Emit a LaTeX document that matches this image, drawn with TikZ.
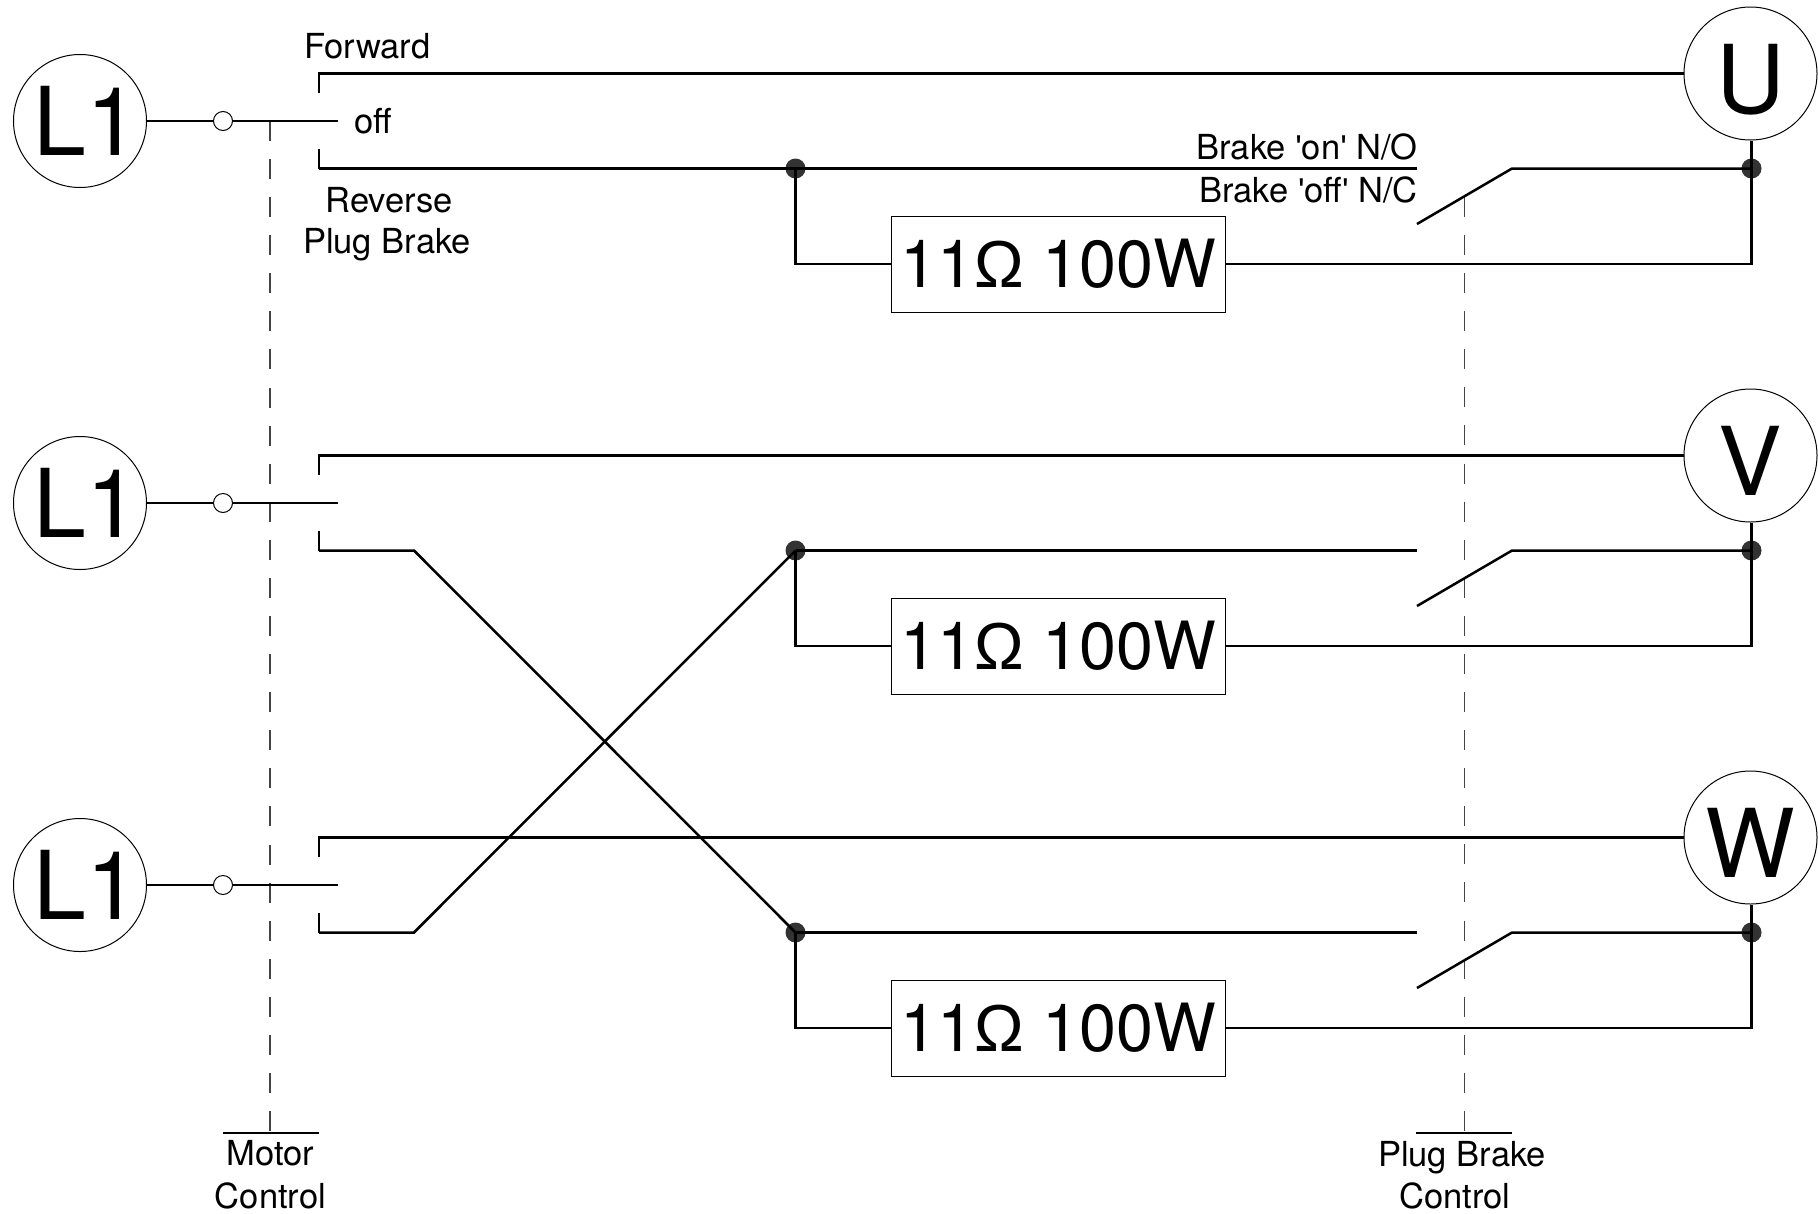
\documentclass[tikz,border=0pt]{standalone}
\usepackage{fontspec}
\setmainfont{TeX Gyre Heros}
\newfontfamily\libfont{Liberation Sans}
\newcommand{\sq}{{\libfont\char39}}
\definecolor{dashgray}{HTML}{444444}
\definecolor{dotgray}{HTML}{333333}
\tikzset{
  wire/.style={line width=2.5pt,black,line join=miter},
  ctrl/.style={line width=1.2pt,dashgray,dash pattern=on 20pt off 18.08pt},
  term/.style={circle,draw=black,line width=1pt,fill=white,inner sep=0pt,minimum size=133pt,font=\fontsize{95}{100}\selectfont},
  motorterm/.style={term,text height=80pt,text depth=0pt},
  contact/.style={circle,draw=black,line width=1pt,fill=white,inner sep=0pt,minimum size=19pt},
  dot/.style={circle,fill=dotgray,inner sep=0pt,minimum size=20pt},
  res/.style={rectangle,draw=black,line width=1pt,fill=white,inner sep=0pt,minimum width=334pt,minimum height=96pt,font=\fontsize{66.5}{70}\selectfont},
  lab/.style={inner sep=0pt,font=\fontsize{34.5}{40}\selectfont}
}
\begin{document}
\begin{tikzpicture}[x=1pt,y=-1pt]
\useasboundingbox (0,0) rectangle (1818,1213);
\fill[white] (0,0) rectangle (1818,1213);
% control lines
\coordinate (mctop) at (270,121);
\coordinate (mcbot) at (270,1133);
\coordinate (pbtop) at (1464.5,197);
\coordinate (pbbot) at (1464.5,1133);
\draw[ctrl] (mctop) -- (mcbot);
\draw[ctrl] (pbtop) -- (pbbot);
\foreach \i/\o/\m in {1/0/U,2/382/V,3/764/W}{
  \node[term] (L\i) at (80,{121+\o}) {\makebox[0pt][c]{\hspace*{13pt}L1}};
  \node[motorterm] (M\i) at (1750.5,{73.5+\o}) {\m};
  \node[contact] (c\i) at (223,{121+\o}) {};
  \node[res] (R\i) at (1058.5,{264+\o}) {11{\libfont Ω} 100W};
  \node[dot] (jl\i) at (795.5,{168.5+\o}) {};
  \node[dot] (jr\i) at (1751.5,{168.5+\o}) {};
  \coordinate (pole\i) at (338,{121+\o});
  \coordinate (ft\i) at (319,{93+\o});
  \coordinate (fc\i) at (319,{73.5+\o});
  \coordinate (rb\i) at (319,{149+\o});
  \coordinate (rc\i) at (319,{168.5+\o});
  \coordinate (fix\i) at (1417,{168.5+\o});
  \coordinate (bl\i) at (1417,{224+\o});
  \coordinate (bk\i) at (1512,{168.5+\o});
  \draw[wire] (L\i) -- (c\i);
  \draw[wire] (c\i) -- (pole\i);
  \draw[wire] (ft\i) -- (fc\i) -- (M\i);
  \draw[wire] (jl\i.center) -- (fix\i);
  \draw[wire] (bl\i) -- (bk\i) -- (jr\i.center);
  \draw[wire] (jr\i.center |- M\i.south) -- (jr\i.center) |- (R\i.east);
  \draw[wire] (jl\i.center) |- (R\i.west);
  \draw[wire] (rb\i) -- (rc\i);
}
% reversing connections
\coordinate (k2) at (414,550.5);
\coordinate (k3) at (414,932.5);
\draw[wire] (rc1) -- (jl1.center);
\draw[wire] (rc2) -- (k2) -- (jl3.center);
\draw[wire] (rc3) -- (k3) -- (jl2.center);
% bars
\coordinate (ba) at (223,1133);
\coordinate (bb) at (319,1133);
\coordinate (bc) at (1416,1133);
\coordinate (bd) at (1512,1133);
\draw[wire] (ba) -- (bb);
\draw[wire] (bc) -- (bd);
% labels
\node[lab,anchor=base west] (tf) at (304,58) {Forward};
\node[lab,anchor=base west] (to) at (354,133) {off};
\node[lab,anchor=base] (tr) at (389,212) {Reverse};
\node[lab,anchor=base] (tp) at (387,253) {Plug Brake};
\node[lab,anchor=base east] (bon) at (1418,159) {Brake \sq on\sq{} N/O};
\node[lab,anchor=base east] (boff) at (1418,202) {Brake \sq off\sq{} N/C};
\node[lab,anchor=base] (mm) at (270.5,1165) {Motor};
\node[lab,anchor=base] (mk) at (270.5,1208) {Control};
\node[lab,anchor=base] (pm) at (1462,1166) {Plug Brake};
\node[lab,anchor=base] (pk) at (1455,1208) {Control};
\end{tikzpicture}
\end{document}
